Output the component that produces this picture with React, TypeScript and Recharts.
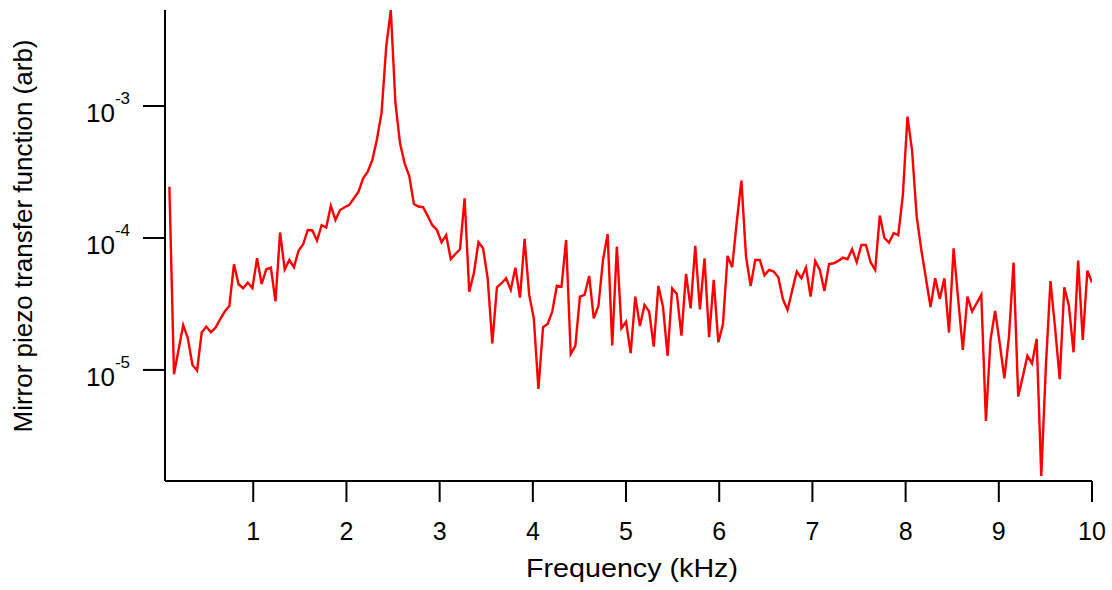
import { LineChart, Line, XAxis, YAxis } from "recharts";

// frequency grid of the spectrum (kHz)
const FREQ_START = 0.1;
const FREQ_STEP = 0.0495;

// transfer function magnitude (arb), one value per frequency bin
const magnitude = [
  2.45e-4, 9.27e-6, 1.43e-5, 2.19e-5, 1.74e-5, 1.09e-5, 9.88e-6, 1.92e-5, 2.13e-5, 1.93e-5,
  2.09e-5, 2.42e-5, 2.77e-5, 3.05e-5, 6.32e-5, 4.46e-5, 4.16e-5, 4.59e-5, 4.16e-5, 7.02e-5,
  4.48e-5, 5.79e-5, 5.96e-5, 3.31e-5, 1.10e-4, 5.79e-5, 6.81e-5, 6.0e-5, 8.01e-5, 8.96e-5,
  1.15e-4, 1.14e-4, 9.54e-5, 1.25e-4, 1.2e-4, 1.75e-4, 1.37e-4, 1.63e-4, 1.71e-4, 1.78e-4,
  2.0e-4, 2.24e-4, 2.83e-4, 3.18e-4, 3.9e-4, 5.6e-4, 8.9e-4, 2.81e-3, 5.34e-3, 1.05e-3,
  5.22e-4, 3.68e-4, 2.95e-4, 1.81e-4, 1.73e-4, 1.71e-4, 1.47e-4, 1.25e-4, 1.15e-4, 9.27e-5,
  1.05e-4, 6.9e-5, 7.56e-5, 8.21e-5, 2.0e-4, 3.92e-5, 5.4e-5, 9.27e-5, 8.36e-5, 4.95e-5,
  1.59e-5, 4.23e-5, 4.54e-5, 4.95e-5, 4.04e-5, 5.96e-5, 3.53e-5, 9.83e-5, 3.7e-5, 2.46e-5,
  7.18e-6, 2.11e-5, 2.23e-5, 2.77e-5, 4.35e-5, 4.28e-5, 9.66e-5, 1.32e-5, 1.52e-5, 3.59e-5,
  3.7e-5, 5.15e-5, 2.46e-5, 3.05e-5, 6.81e-5, 1.07e-4, 1.53e-5, 8.59e-5, 2.07e-5, 2.32e-5,
  1.34e-5, 3.59e-5, 2.15e-5, 3.11e-5, 2.77e-5, 1.5e-5, 4.33e-5, 3.02e-5, 1.28e-5, 4.16e-5,
  3.77e-5, 1.82e-5, 5.34e-5, 2.93e-5, 8.7e-5, 2.88e-5, 7.02e-5, 1.77e-5, 4.81e-5, 1.62e-5,
  2.22e-5, 7.31e-5, 6.0e-5, 1.33e-4, 2.72e-4, 7.21e-5, 4.33e-5, 6.81e-5, 6.81e-5, 5.22e-5,
  5.72e-5, 5.56e-5, 5.04e-5, 3.43e-5, 2.85e-5, 3.99e-5, 5.56e-5, 4.95e-5, 5.96e-5, 3.59e-5,
  6.7e-5, 5.72e-5, 3.97e-5, 6.35e-5, 6.43e-5, 6.7e-5, 7.09e-5, 6.9e-5, 8.21e-5, 6.55e-5,
  8.85e-5, 8.85e-5, 6.55e-5, 5.72e-5, 1.48e-4, 1.0e-4, 9.21e-5, 1.09e-4, 1.05e-4, 2.12e-4,
  8.3e-4, 4.59e-4, 1.45e-4, 8.11e-5, 4.95e-5, 2.99e-5, 4.95e-5, 3.45e-5, 4.95e-5, 1.92e-5,
  8.36e-5, 3.39e-5, 1.42e-5, 3.59e-5, 2.77e-5, 3.2e-5, 3.7e-5, 4.11e-6, 1.69e-5, 2.8e-5,
  1.59e-5, 8.65e-6, 1.79e-5, 6.5e-5, 6.28e-6, 8.9e-6, 1.28e-5, 1.12e-5, 1.72e-5, 1.57e-6,
  1.06e-5, 4.72e-5, 2.07e-5, 8.51e-6, 4.23e-5, 3.05e-5, 1.36e-5, 6.73e-5, 1.69e-5, 5.65e-5,
  4.59e-5,
];

const xTicks = [1, 2, 3, 4, 5, 6, 7, 8, 9, 10];
const yTicks = [1e-5, 1e-4, 1e-3];

const data = magnitude.map((v, i) => ({ f: FREQ_START + i * FREQ_STEP, v }));

const FONT = "'Liberation Sans', Arial, sans-serif";

function XTick({ x, y, payload }: any) {
  return (
    <text x={x} y={y + 36} textAnchor="middle" fontFamily={FONT} fontSize={25} fill="#000">
      {payload.value}
    </text>
  );
}

function YTick({ x, y, payload }: any) {
  const exp = Math.round(Math.log10(payload.value));
  return (
    <text x={x - 11} y={y + 16} textAnchor="end" fontFamily={FONT} fontSize={26} fill="#000">
      <tspan>10</tspan>
      <tspan dy={-18} fontSize={17}>{exp}</tspan>
    </text>
  );
}

export default function App() {
  return (
    <div style={{ position: "absolute", left: 0, top: 0, width: 1112, height: 590, background: "#fff" }}>
      <LineChart width={1112} height={590} data={data} margin={{ top: 10, right: 20, bottom: 0, left: 0 }}>
        <XAxis
          dataKey="f"
          type="number"
          domain={[0.053, 10]}
          ticks={xTicks}
          allowDataOverflow
          height={109}
          tickSize={21}
          tick={<XTick />}
          axisLine={{ stroke: "#000", strokeWidth: 2 }}
          tickLine={{ stroke: "#000", strokeWidth: 2 }}
        />
        <YAxis
          type="number"
          scale="log"
          domain={[1.44e-6, 5.34e-3]}
          ticks={yTicks}
          allowDataOverflow
          width={165}
          tickSize={22}
          tick={<YTick />}
          axisLine={{ stroke: "#000", strokeWidth: 2 }}
          tickLine={{ stroke: "#000", strokeWidth: 2 }}
        />
        <Line
          type="linear"
          dataKey="v"
          stroke="#ff0000"
          strokeWidth={2.4}
          dot={false}
          isAnimationActive={false}
        />
        <text
          x={632}
          y={577}
          textAnchor="middle"
          fontFamily={FONT}
          fontSize={26}
          textLength={212}
          lengthAdjust="spacingAndGlyphs"
          fill="#000"
        >
          Frequency (kHz)
        </text>
        <text
          x={0}
          y={0}
          transform="translate(32,236) rotate(-90)"
          textAnchor="middle"
          fontFamily={FONT}
          fontSize={26}
          fill="#000"
        >
          Mirror piezo transfer function (arb)
        </text>
      </LineChart>
    </div>
  );
}
